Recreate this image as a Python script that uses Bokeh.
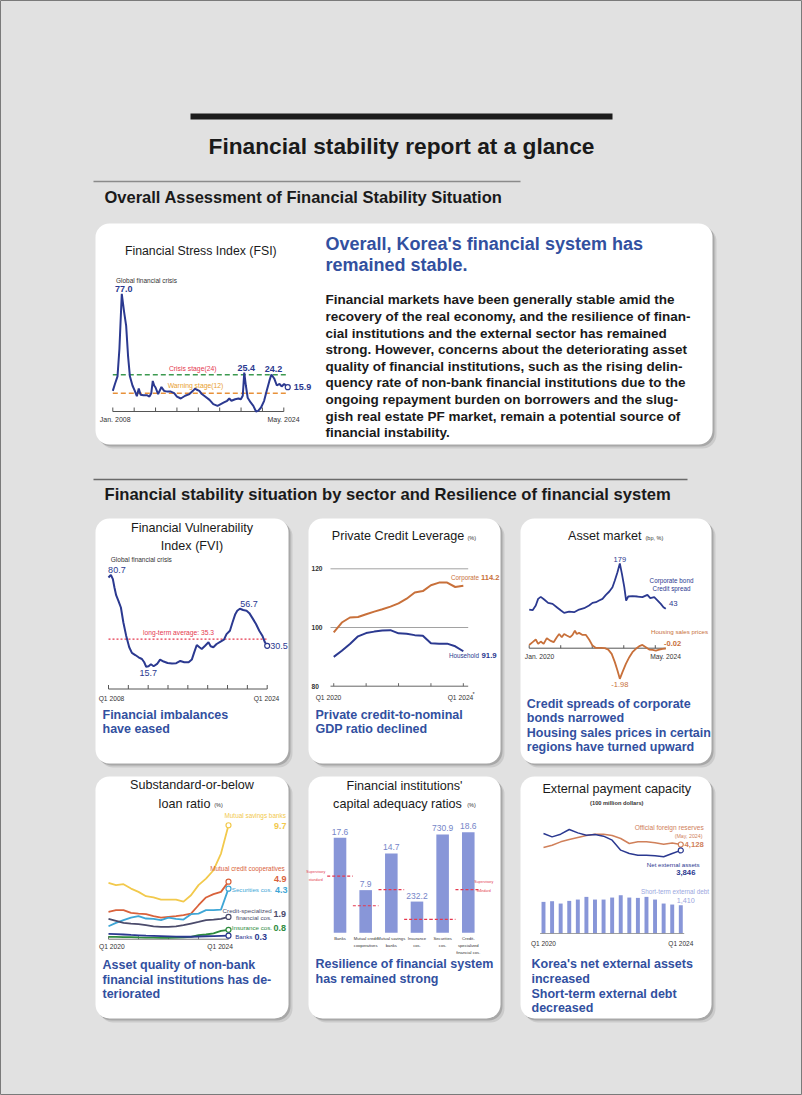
import numpy as np
from bokeh.plotting import figure
from bokeh.models import Range1d
from bokeh.core.properties import value
from bokeh.embed import file_html
from bokeh.resources import INLINE

# ---------------- data ----------------
# Financial Stress Index (decimal year, index)
fsi_time = [2008.00, 2008.20, 2008.44, 2008.62, 2008.84, 2009.06, 2009.25, 2009.43, 2009.60, 2009.84,
            2010.06, 2010.25, 2010.43, 2010.60, 2010.87, 2011.18, 2011.43, 2011.60, 2011.74, 2011.87,
            2012.00, 2012.24, 2012.55, 2012.80, 2013.10, 2013.43, 2013.74, 2014.00, 2014.36, 2014.77,
            2015.17, 2015.50, 2015.70, 2015.86, 2016.10, 2016.33, 2016.64, 2017.05, 2017.40, 2017.80,
            2018.10, 2018.40, 2018.70, 2018.90, 2019.10, 2019.45, 2019.76, 2019.98, 2020.16, 2020.30,
            2020.45, 2020.62, 2020.90, 2021.15, 2021.40, 2021.60, 2021.87, 2022.16, 2022.40, 2022.65,
            2022.84, 2023.10, 2023.35, 2023.60, 2023.80, 2024.03, 2024.20, 2024.37]
fsi_value = [13.5, 18.0, 23.0, 41.0, 77.0, 65.0, 56.0, 36.0, 23.0, 17.0,
             13.5, 10.0, 15.0, 11.0, 10.7, 10.7, 9.8, 12.0, 20.0, 17.0,
             15.7, 11.4, 16.0, 13.5, 13.0, 13.0, 12.0, 9.8, 8.5, 10.3,
             11.4, 13.5, 15.0, 14.2, 13.5, 11.4, 9.8, 7.6, 4.8, 3.7,
             4.8, 5.9, 7.0, 8.5, 7.0, 8.0, 8.5, 8.0, 10.3, 25.4,
             17.0, 9.0, 5.9, 3.7, 0.0, 0.4, 2.6, 7.0, 13.5, 20.0,
             24.2, 21.6, 17.0, 18.0, 16.4, 18.0, 17.0, 15.9]
fsi_ticks = [2008, 2010, 2012, 2014, 2016, 2018, 2020, 2022, 2024]
fsi_crisis = 24
fsi_warning = 12

# Financial Vulnerability Index
fvi_time = [2008.00, 2008.24, 2008.44, 2008.60, 2008.77, 2009.00, 2009.25, 2009.50, 2009.78, 2010.09,
            2010.36, 2010.70, 2011.03, 2011.37, 2011.60, 2011.80, 2012.04, 2012.28, 2012.55, 2012.90,
            2013.20, 2013.56, 2013.96, 2014.40, 2014.83, 2015.24, 2015.64, 2016.08, 2016.40, 2016.64,
            2016.90, 2017.17, 2017.40, 2017.74, 2018.08, 2018.30, 2018.57, 2018.90, 2019.30, 2019.64,
            2019.90, 2020.24, 2020.50, 2020.78, 2020.98, 2021.25, 2021.58, 2021.92, 2022.20, 2022.53,
            2022.87, 2023.20, 2023.54, 2023.77, 2024.00]
fvi_value = [78.8, 80.7, 77.6, 71.7, 66.3, 62.3, 57.6, 47.0, 37.7, 29.5,
             25.5, 24.0, 22.4, 21.2, 18.9, 15.7, 16.1, 17.5, 16.1, 17.7,
             20.8, 19.4, 18.4, 18.0, 18.2, 19.8, 18.9, 18.9, 20.8, 25.9,
             31.1, 29.5, 28.3, 30.6, 33.0, 30.2, 29.5, 31.8, 33.5, 34.9,
             38.8, 41.2, 47.0, 52.9, 55.3, 56.7, 55.8, 55.3, 53.6, 49.9,
             45.9, 41.2, 37.2, 33.0, 30.5]
fvi_ticks = [2008, 2010, 2012, 2014, 2016, 2018, 2020, 2022, 2024]
fvi_average = 35.3

# quarterly series Q1 2020 - Q1 2024
quarters = ["2020Q1", "2020Q2", "2020Q3", "2020Q4", "2021Q1", "2021Q2", "2021Q3", "2021Q4",
            "2022Q1", "2022Q2", "2022Q3", "2022Q4", "2023Q1", "2023Q2", "2023Q3", "2023Q4", "2024Q1"]
year_ticks = [2020, 2021, 2022, 2023, 2024]

# Private credit leverage (% of GDP)
corporate = [98.3, 101.7, 103.4, 103.6, 104.5, 105.4, 106.2, 107.1, 108.2, 109.8, 111.9, 112.4,
             114.4, 115.3, 115.3, 113.8, 114.2]
household = [90.0, 92.1, 94.4, 97.0, 98.1, 98.6, 99.0, 99.1, 98.0, 97.9, 97.4, 97.2,
             94.6, 94.5, 94.5, 93.6, 91.9]
pcl_levels = [80, 100, 120]

# Asset market (months since Jan. 2020)
spread_month = [0, 1.3, 2.5, 3.4, 4.4, 5.7, 7.2, 8.9, 10.5, 12.1, 13.3, 15.2, 17.1, 19.0, 20.9,
                22.8, 24.1, 25.4, 26.6, 27.9, 29.2, 30.5, 31.7, 32.6, 33.6, 34.5, 35.3, 36.2,
                36.9, 37.7, 39.3, 41.2, 43.1, 45.0, 46.1, 47.6, 48.9, 50.1, 51.1, 52.0]
spread_value = [41, 39, 53, 73, 79, 71, 61, 58, 48, 38, 31, 35, 33, 41, 45,
                53, 61, 63, 68, 73, 85, 95, 108, 128, 153, 179, 148, 108,
                68, 80, 81, 80, 78, 85, 75, 78, 68, 58, 48, 43]
housing_month = [0, 1.3, 2.5, 3.4, 4.4, 5.5, 6.7, 8.0, 9.3, 10.5, 11.4, 12.4, 13.3, 14.3, 15.6,
                 16.5, 17.4, 18.1, 19.0, 20.3, 21.6, 22.8, 24.1, 25.4, 27.3, 28.8, 30.1, 31.4,
                 32.6, 33.6, 34.5, 35.5, 36.8, 38.1, 39.3, 40.6, 41.9, 43.1, 44.4, 45.7, 47.0,
                 48.2, 49.5, 50.8, 52.0]
housing_value = [0.21, 0.39, 0.56, 0.28, 0.43, 0.28, 0.65, 0.49, 0.39, 0.71, 0.92, 0.71, 0.92,
                 0.82, 0.71, 0.86, 1.14, 0.92, 0.99, 0.86, 0.86, 0.56, 0.17, 0.02, 0.02, 0.0,
                 -0.09, -0.37, -0.90, -1.44, -1.98, -1.55, -1.01, -0.58, -0.26, -0.04, 0.13,
                 0.21, 0.06, -0.09, -0.11, -0.15, -0.09, -0.04, -0.02]
asset_ticks = [0, 12, 24, 36, 48]

# Substandard-or-below loan ratio (%)
sbl_savings = [4.79, 4.60, 4.68, 4.31, 4.03, 3.66, 3.55, 3.37, 3.37, 3.37, 3.20, 3.74, 4.60, 5.16, 5.87, 7.29, 9.70]
sbl_credit_coop = [2.33, 2.47, 2.47, 2.24, 2.18, 2.13, 1.96, 1.84, 1.90, 1.96, 2.04, 2.18, 2.89, 3.55, 3.83, 4.03, 4.90]
sbl_securities = [1.10, 1.39, 1.62, 1.84, 1.96, 1.76, 1.73, 1.62, 1.84, 1.73, 1.67, 2.13, 2.18, 2.47, 2.47, 2.52, 4.30]
sbl_credit_spec = [1.73, 1.56, 1.39, 1.33, 1.28, 1.19, 1.10, 1.05, 1.05, 1.10, 1.19, 1.33, 1.47, 1.62, 1.67, 1.73, 1.90]
sbl_insurance = [0.20, 0.20, 0.18, 0.17, 0.15, 0.14, 0.13, 0.12, 0.12, 0.13, 0.15, 0.20, 0.35, 0.40, 0.50, 0.70, 0.80]
sbl_banks = [0.45, 0.43, 0.40, 0.36, 0.33, 0.30, 0.28, 0.26, 0.24, 0.22, 0.21, 0.21, 0.23, 0.25, 0.26, 0.28, 0.30]

# Capital adequacy ratios
car_categories = [["Banks"], ["Mutual credit", "cooperatives"], ["Mutual savings", "banks"],
                  ["Insurance", "cos."], ["Securities", "cos."], ["Credit-", "specialized", "financial cos."]]
car_values = [17.6, 7.9, 14.7, 232.2, 730.9, 18.6]
car_standard = [10.5, 5.0, 8.0, 100.0, 100.0, 8.0]
car_scale = ["ratio", "ratio", "ratio", "multiple", "multiple", "ratio"]

# External payment capacity (100 million dollars)
reserves = [3984, 4096, 4256, 4367, 4463, 4559, 4622, 4622, 4559, 4415, 4176, 4256, 4256, 4208, 4141, 4201, 4128]
net_ext_assets = [4654, 4495, 4622, 4846, 4686, 4575, 4607, 4527, 4335, 3857, 3697, 3618, 3618, 3586, 3538, 3697, 3846]
st_ext_debt = [1577, 1610, 1494, 1627, 1693, 1826, 1693, 1693, 1793, 1909, 1793, 1776, 1826, 1693, 1494, 1444, 1410]

body_lines = [
    "Financial markets have been generally stable amid the",
    "recovery of the real economy, and the resilience of finan-",
    "cial institutions and the external sector has remained",
    "strong. However, concerns about the deteriorating asset",
    "quality of financial institutions, such as the rising delin-",
    "quency rate of non-bank financial institutions due to the",
    "ongoing repayment burden on borrowers and the slug-",
    "gish real estate PF market, remain a potential source of",
    "financial instability.",
]

qx = [int(q[:4]) + (int(q[-1]) - 1) / 4 for q in quarters]

# ---------------- style ----------------
NAVY = "#2b3990"
ORANGE = "#c8703a"
BLUE = "#32509f"
RED = "#e5384f"
BAR = "#8896d8"
BAR_TXT = "#7585c8"
DARK = "#1a1a1a"
GRAY = "#333333"
FONT = value("Liberation Sans")

p = figure(width=802, height=1095, x_range=Range1d(0, 802), y_range=Range1d(0, 1095),
           output_backend="svg", toolbar_location=None, min_border=0)
p.axis.visible = False
p.grid.visible = False
p.background_fill_color = "#e1e1e1"
p.border_fill_color = "#e1e1e1"
p.outline_line_color = "#7a7a7a"


def py(Y):
    return 1095 - Y


def T(x, Y, s, size, color=DARK, bold=False, align="left", baseline="middle"):
    p.text(x=[x], y=[py(Y)], text=[s], text_font=FONT, text_font_size=f"{size}px",
           text_color=color, text_font_style="bold" if bold else "normal",
           text_align=align, text_baseline=baseline)


class Sub:
    def __init__(self, xs, Xt, ys, Yt):
        self.xs, self.Xt, self.ys, self.Yt = xs, Xt, ys, Yt
        self.g = p.subplot(x_source=Range1d(*xs), y_source=Range1d(*ys),
                           x_target=Range1d(*Xt), y_target=Range1d(py(Yt[0]), py(Yt[1])))

    def dy(self, px):
        return px * (self.ys[1] - self.ys[0]) / (self.Yt[0] - self.Yt[1])

    def text(self, xs, ys, texts, size, color, bold=False, align="center", baseline="middle", x_offset=0):
        self.g.text(x=list(xs), y=list(ys), text=list(texts), text_font=FONT,
                    text_font_size=f"{size}px", text_color=color,
                    text_font_style="bold" if bold else "normal",
                    text_align=align, text_baseline=baseline, x_offset=x_offset)

    def axis(self, x0, x1, ticks, at=0, color="#555555", tick_px=4, width=1):
        self.g.segment(x0=[x0], y0=[at], x1=[x1], y1=[at], line_color=color, line_width=width)
        if ticks:
            self.g.segment(x0=ticks, y0=[at] * len(ticks), x1=ticks,
                           y1=[at + self.dy(tick_px)] * len(ticks), line_color=color, line_width=width)


def endpoint(sub, x, y, color):
    sub.g.scatter([x], [y], marker="circle", size=5, fill_color="white", line_color=color, line_width=1.2)


def panel(L, R, Tp, B):
    for off, col in ((4, "#cbcbcb"), (2, "#a8a8a8")):
        p.quad(left=L + off, right=R + off, top=py(Tp + off), bottom=py(B + off),
               fill_color=col, line_color=None, border_radius=14)
    p.quad(left=L, right=R, top=py(Tp), bottom=py(B), fill_color="white", line_color=None, border_radius=14)


# ---------------- page frame ----------------
p.quad(left=190, right=612, top=py(113), bottom=py(119), fill_color="#1c1c1c", line_color=None)
T(401, 145, "Financial stability report at a glance", 22.7, DARK, True, "center")
p.segment(x0=[93], y0=[py(181)], x1=[520], y1=[py(181)], line_color="#8a8a8a", line_width=1.5)
T(104, 196, "Overall Assessment of Financial Stability Situation", 16.5, DARK, True)
p.segment(x0=[93], y0=[py(479)], x1=[687], y1=[py(479)], line_color="#6a6a6a", line_width=1.5)
T(104, 494, "Financial stability situation by sector and Resilience of financial system", 16.6, DARK, True)

panel(95, 712, 223, 444)
for (L, R) in ((95, 288), (308, 500), (520, 711)):
    panel(L, R, 518, 763)
    panel(L, R, 776, 1018)

# ---------------- panel 1 : FSI + text ----------------
T(200.3, 250.3, "Financial Stress Index (FSI)", 12.3, DARK, False, "center")
fsi = Sub((2008, 2024), (112.3, 283.3), (0, 24), (411, 374.3))
fsi.axis(fsi_ticks[0], fsi_ticks[-1], fsi_ticks)
fsi.g.segment(x0=[fsi_ticks[0]], y0=[fsi_crisis], x1=[fsi_time[-1]], y1=[fsi_crisis],
              line_color="#3c9a50", line_dash="5 3", line_width=1.5)
fsi.g.segment(x0=[fsi_ticks[0]], y0=[fsi_warning], x1=[fsi_time[-1]], y1=[fsi_warning],
              line_color="#e8913a", line_dash="5 3", line_width=1.5)
fsi.g.line(fsi_time, fsi_value, line_color=NAVY, line_width=2)
endpoint(fsi, fsi_time[-1], fsi_value[-1], NAVY)
T(115.5, 279.5, "Global financial crisis", 6.5, GRAY)
pk = [int(np.argmax(fsi_value[:20])), 49, 60]
fsi.text([fsi_time[i] for i in pk], [fsi_value[i] + fsi.dy(2) for i in pk],
         [f"{fsi_value[i]:.1f}" for i in pk], 9, NAVY, True, "center", "bottom", x_offset=2)
fsi.text([fsi_time[-1]], [fsi_value[-1]], [f"{fsi_value[-1]:.1f}"], 9, NAVY, True, "left", "middle", x_offset=6)
T(192.2, 367.7, f"Crisis stage({fsi_crisis})", 6.8, RED, False, "center")
T(195, 385, f"Warning stage({fsi_warning})", 6.8, "#e8a030", False, "center")
T(114.7, 418.7, "Jan. 2008", 7, GRAY, False, "center")
T(283, 418.7, "May. 2024", 7, GRAY, False, "center")

T(325, 243, "Overall, Korea's financial system has", 18, BLUE, True)
T(325, 264.3, "remained stable.", 18, BLUE, True)
for k, line in enumerate(body_lines):
    T(325, 299.3 + 16.6 * k, line, 13.5, DARK, True)

# ---------------- panel 2 : FVI ----------------
T(191.5, 527, "Financial Vulnerability", 12.6, DARK, False, "center")
T(191.5, 545, "Index (FVI)", 12.6, DARK, False, "center")
fvi = Sub((2008, 2024), (108, 266.7), (0, 80.7), (688.5, 574.3))
fvi.axis(fvi_ticks[0], fvi_ticks[-1], fvi_ticks)
fvi.g.segment(x0=[fvi_ticks[0]], y0=[fvi_average], x1=[fvi_ticks[-1]], y1=[fvi_average],
              line_color=RED, line_dash="2 2", line_width=1.2)
fvi.g.line(fvi_time, fvi_value, line_color=NAVY, line_width=2)
endpoint(fvi, fvi_time[-1], fvi_value[-1], NAVY)
T(110.3, 559, "Global financial crisis", 6.5, GRAY)
i0 = int(np.argmax(fvi_value[:10]))
fvi.text([fvi_time[i0]], [fvi_value[i0] + fvi.dy(1.5)], [f"{fvi_value[i0]:.1f}"], 9, NAVY, False, "center", "bottom", x_offset=6)
i1 = int(np.argmin(fvi_value))
fvi.text([fvi_time[i1]], [fvi_value[i1] - fvi.dy(3)], [f"{fvi_value[i1]:.1f}"], 9, NAVY, False, "center", "top", x_offset=2)
i2 = 30 + int(np.argmax(fvi_value[30:]))
fvi.text([fvi_time[i2]], [fvi_value[i2] + fvi.dy(2)], [f"{fvi_value[i2]:.1f}"], 9, NAVY, False, "center", "bottom", x_offset=9)
fvi.text([fvi_time[-1]], [fvi_value[-1]], [f"{fvi_value[-1]:.1f}"], 9, NAVY, False, "left", "middle", x_offset=3)
T(178, 632.3, f"long-term average: {fvi_average}", 6.7, RED, False, "center")
T(111, 697.7, "Q1 2008", 6.7, GRAY, False, "center")
T(266, 697.7, "Q1 2024", 6.7, GRAY, False, "center")
T(102, 714.3, "Financial imbalances", 12.5, BLUE, True)
T(102, 728.6, "have eased", 12.5, BLUE, True)

# ---------------- panel 3 : private credit leverage ----------------
T(397.5, 535.7, "Private Credit Leverage", 12.6, DARK, False, "center")
T(467, 537.5, "(%)", 5.5, GRAY)
pcl = Sub((2019.9, 2024.15), (330, 467.7), (80, 120), (685.7, 568.3))
for lv in pcl_levels[1:]:
    pcl.g.segment(x0=[2019.9], y0=[lv], x1=[2024.15], y1=[lv], line_color="#8a8a8a", line_width=0.8)
pcl.axis(2019.9, 2024.15, year_ticks, at=pcl_levels[0], color="#666666", tick_px=3)
pcl.text([2019.9] * 3, pcl_levels, [str(v) for v in pcl_levels], 6.6, GRAY, True, "left", "middle", x_offset=-19)
pcl.g.line(qx, corporate, line_color=ORANGE, line_width=2)
pcl.g.line(qx, household, line_color=NAVY, line_width=2)
T(478.5, 577, "Corporate", 6.3, ORANGE, False, "right")
T(480.5, 577, f"{corporate[-1]:.1f}", 7.5, ORANGE, True)
T(478.5, 655, "Household", 6.3, NAVY, False, "right")
T(481, 655, f"{household[-1]:.1f}", 7.8, NAVY, True)
T(328, 696.7, "Q1 2020", 6.7, GRAY, False, "center")
T(460, 696.7, "Q1 2024", 6.7, GRAY, False, "center")
T(472, 693.5, "*", 5.5, GRAY)
T(315, 714.3, "Private credit-to-nominal", 12.5, BLUE, True)
T(315, 728.6, "GDP ratio declined", 12.5, BLUE, True)

# ---------------- panel 4 : asset market ----------------
T(604.3, 535.7, "Asset market", 12.6, DARK, False, "center")
T(645, 537.5, "(bp, %)", 5.5, GRAY)
asp = Sub((0, 52), (528.7, 665.3), (0, 179), (622.7, 563))
ahs = Sub((0, 52), (528.7, 665.3), (-1.98, 0), (678.3, 647.7))
ahs.axis(asset_ticks[0], 52, asset_ticks, at=0, color="#555555", tick_px=3)
asp.g.line(spread_month, spread_value, line_color=NAVY, line_width=1.8)
ahs.g.line(housing_month, housing_value, line_color=ORANGE, line_width=1.8)
j = int(np.argmax(spread_value))
asp.text([spread_month[j]], [spread_value[j] + asp.dy(2)], [str(spread_value[j])], 7.5, NAVY, False, "center", "bottom")
T(671, 580.3, "Corporate bond", 6.3, NAVY, False, "center")
T(671, 588, "Credit spread", 6.3, NAVY, False, "center")
T(668.5, 602.5, str(spread_value[-1]), 7.8, NAVY)
T(679, 631, "Housing sales prices", 6.2, ORANGE, False, "center")
T(663.5, 642.7, f"{housing_value[-1]:.2f}", 7.5, ORANGE, True)
k = int(np.argmin(housing_value))
ahs.text([housing_month[k]], [housing_value[k] - ahs.dy(3)], [f"{housing_value[k]:.2f}"], 7.5, ORANGE, False, "center", "top")
T(539, 655.7, "Jan. 2020", 6.7, GRAY, False, "center")
T(665, 655.7, "May. 2024", 6.7, GRAY, False, "center")
for n, s in enumerate(["Credit spreads of corporate", "bonds narrowed",
                       "Housing sales prices in certain", "regions have turned upward"]):
    T(526.3, 703.3 + 14.5 * n, s, 12.5, BLUE, True)

# ---------------- panel 5 : substandard-or-below loans ----------------
T(191.5, 784.7, "Substandard-or-below", 12.6, DARK, False, "center")
T(184, 803, "loan ratio", 12.6, DARK, False, "center")
T(213.7, 804.5, "(%)", 5.5, GRAY)
sbl = Sub((2020, 2024), (108, 228), (0, 10), (938.7, 821.2))
sbl.axis(year_ticks[0], year_ticks[-1], year_ticks, at=0, color="#777777", tick_px=3)
series = [(sbl_savings, "#f2c94c"), (sbl_credit_coop, "#d9623b"), (sbl_securities, "#3ea6d6"),
          (sbl_credit_spec, "#4b4b6b"), (sbl_insurance, "#2e8b3e"), (sbl_banks, NAVY)]
for vals, col in series:
    sbl.g.line(qx, vals, line_color=col, line_width=1.8)
    endpoint(sbl, qx[-1], vals[-1], col)
T(254.7, 815.3, "Mutual savings banks", 6.4, "#f2c94c", False, "center")
T(286, 825.7, f"{sbl_savings[-1]:.1f}", 9, "#f2c94c", True, "right")
T(247, 868, "Mutual credit cooperatives", 6.4, "#d9623b", False, "center")
T(286, 878, f"{sbl_credit_coop[-1]:.1f}", 9, "#d9623b", True, "right")
T(231.3, 889, "Securities cos.", 6.2, "#3ea6d6")
T(274.5, 889, f"{sbl_securities[-1]:.1f}", 9, "#3ea6d6", True)
T(271.3, 909.7, "Credit-specialized", 6.2, "#4b4b6b", False, "right")
T(271.3, 917, "financial cos.", 6.2, "#4b4b6b", False, "right")
T(273, 913, f"{sbl_credit_spec[-1]:.1f}", 9, "#4b4b6b", True)
T(231.3, 927.3, "Insurance cos.", 6.2, "#2e8b3e")
T(273, 927.3, f"{sbl_insurance[-1]:.1f}", 9, "#2e8b3e", True)
T(234.7, 936.3, "Banks", 6.2, NAVY)
T(254, 936.3, f"{sbl_banks[-1]:.1f}", 9, NAVY, True)
T(111.3, 946.3, "Q1 2020", 6.7, GRAY, False, "center")
T(219.7, 946.3, "Q1 2024", 6.7, GRAY, False, "center")
T(102, 964.7, "Asset quality of non-bank", 12.5, BLUE, True)
T(102, 979.2, "financial institutions has de-", 12.5, BLUE, True)
T(102, 993.7, "teriorated", 12.5, BLUE, True)

# ---------------- panel 6 : capital adequacy ----------------
T(404, 785.3, "Financial institutions'", 12.6, DARK, False, "center")
T(397, 803, "capital adequacy ratios", 12.6, DARK, False, "center")
T(466.7, 804.5, "(%)", 5.5, GRAY)
carA = Sub((-0.5, 5.5), (326.7, 480.6), (0, 20), (932.3, 824.3))
carB = Sub((-0.5, 5.5), (326.7, 480.6), (0, 800), (932.3, 824.7))
for sub, grp in ((carA, "ratio"), (carB, "multiple")):
    idx = [i for i, s in enumerate(car_scale) if s == grp]
    vals = [car_values[i] for i in idx]
    stds = [car_standard[i] for i in idx]
    sub.g.vbar(x=idx, top=vals, bottom=0, width=0.49, fill_color=BAR, line_color=None)
    sub.g.segment(x0=[i - 0.5 for i in idx], y0=stds, x1=[i + 0.5 for i in idx], y1=stds,
                  line_color=RED, line_dash="3 2", line_width=1.1)
    sub.text(idx, [v + sub.dy(3) for v in vals], [f"{v:.1f}" for v in vals], 8.5, BAR_TXT, False, "center", "bottom")
for i, lines in enumerate(car_categories):
    carA.text([i] * len(lines), [-carA.dy(6 + 6.8 * m) for m in range(len(lines))], lines, 4.2, GRAY, False, "center", "middle")
T(315.3, 871, "Supervisory", 3.6, RED, False, "center")
T(315.3, 879.5, "standard", 3.6, RED, False, "center")
T(483.3, 881.3, "Supervisory", 3.6, RED, False, "center")
T(483.3, 890.3, "standard", 3.6, RED, False, "center")
T(315, 963.7, "Resilience of financial system", 12.5, BLUE, True)
T(315, 978.2, "has remained strong", 12.5, BLUE, True)

# ---------------- panel 7 : external payment capacity ----------------
T(616.3, 788, "External payment capacity", 12.7, DARK, False, "center")
T(616.3, 802.3, "(100 million dollars)", 5.7, GRAY, True, "center")
ext_l = Sub((2020, 2024), (543, 680.3), (3400, 4900), (859.2, 827.9))
ext_b = Sub((2020, 2024), (543, 680.3), (0, 2000), (933, 892.9))
ext_b.g.vbar(x=qx, top=st_ext_debt, bottom=0, width=0.115, fill_color=BAR, line_color=None)
ext_b.axis(qx[0] - 0.1, qx[-1] + 0.1, [], at=0, color="#888888", width=0.8)
ext_l.g.line(qx, reserves, line_color="#d0805a", line_width=1.5)
ext_l.g.line(qx, net_ext_assets, line_color=NAVY, line_width=1.5)
endpoint(ext_l, qx[-1], reserves[-1], "#d0805a")
endpoint(ext_l, qx[-1], net_ext_assets[-1], NAVY)
T(668.7, 827, "Official foreign reserves", 6.6, "#d0805a", False, "center")
T(702, 835.3, "(May, 2024)", 5.3, "#d0805a", False, "right")
T(684, 843.7, f"{reserves[-1]:,}", 7.7, "#d0805a", True)
T(672.7, 863.7, "Net external assets", 6.2, NAVY, False, "center")
T(685.3, 872, f"{net_ext_assets[-1]:,}", 7.7, NAVY, True, "center")
T(674.5, 891.3, "Short-term external debt", 6.3, "#9aa6de", False, "center")
T(685.3, 899.7, f"{st_ext_debt[-1]:,}", 7.2, "#9aa6de", False, "center")
T(543, 943, "Q1 2020", 6.5, GRAY, False, "center")
T(680.3, 943, "Q1 2024", 6.5, GRAY, False, "center")
for n, s in enumerate(["Korea's net external assets", "increased",
                       "Short-term external debt", "decreased"]):
    T(531, 963.7 + 14.7 * n, s, 12.5, BLUE, True)

open("out.html", "w").write(file_html(p, INLINE, title="Financial stability report at a glance"))
